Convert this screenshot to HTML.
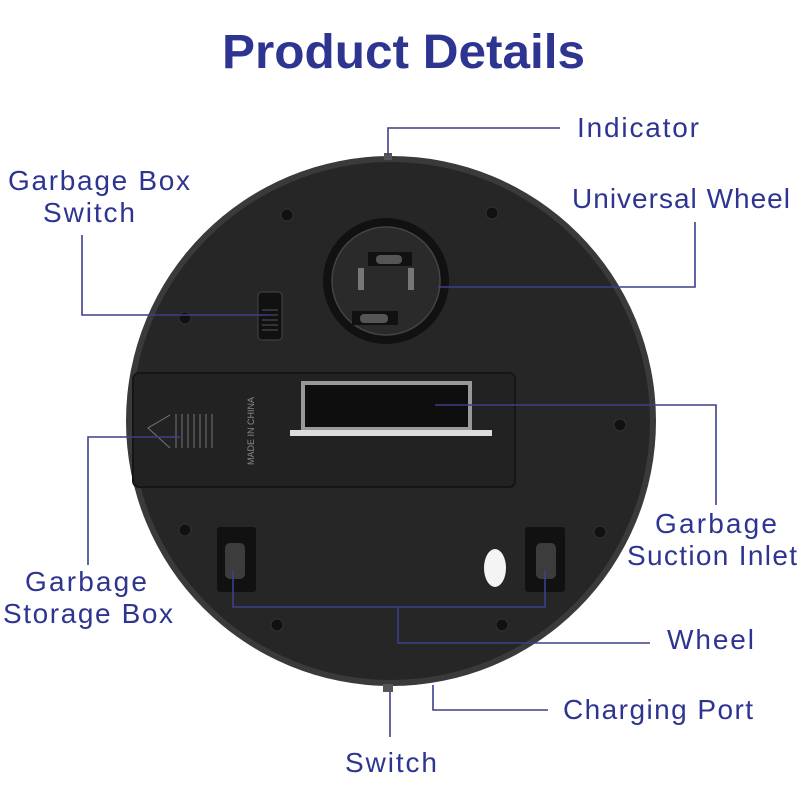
<!DOCTYPE html><html><head><style>body{margin:0;background:#fff}svg{display:block}
text{font-family:"Liberation Sans",sans-serif;fill:#2d3591}</style></head><body>
<svg width="800" height="800" viewBox="0 0 800 800">
<text x="222" y="68" font-size="48" font-weight="bold" textLength="363" lengthAdjust="spacingAndGlyphs">Product Details</text>
<circle cx="391" cy="421" r="265" fill="#3a3a3a"/>
<circle cx="391" cy="421" r="259" fill="#262626"/>
<rect x="133" y="373" width="382" height="114" rx="6" fill="#222" stroke="#151515" stroke-width="2"/>
<circle cx="386" cy="281" r="63" fill="#111"/><circle cx="386" cy="281" r="54" fill="#2a2a2a" stroke="#444" stroke-width="1.5"/>
<rect x="358" y="268" width="6" height="22" fill="#777"/><rect x="408" y="268" width="6" height="22" fill="#777"/>
<rect x="368" y="252" width="44" height="14" fill="#111"/><rect x="376" y="255" width="26" height="9" rx="4" fill="#555"/>
<rect x="352" y="311" width="46" height="14" fill="#111"/><rect x="360" y="314" width="28" height="9" rx="4" fill="#555"/>
<rect x="258" y="292" width="24" height="48" rx="4" fill="#111" stroke="#444"/>
<g stroke="#555" stroke-width="1"><line x1="262" y1="310" x2="278" y2="310"/><line x1="262" y1="315" x2="278" y2="315"/><line x1="262" y1="320" x2="278" y2="320"/><line x1="262" y1="325" x2="278" y2="325"/><line x1="262" y1="330" x2="278" y2="330"/></g>
<rect x="303" y="383" width="167" height="46" fill="#0e0e0e" stroke="#999" stroke-width="4"/>
<rect x="290" y="430" width="202" height="6" fill="#ddd"/>
<g stroke="#777" stroke-width="1" fill="none"><path d="M170 415 L148 428 L170 448"/><line x1="176" y1="414" x2="176" y2="448"/><line x1="182" y1="414" x2="182" y2="448"/><line x1="188" y1="414" x2="188" y2="448"/><line x1="194" y1="414" x2="194" y2="448"/><line x1="200" y1="414" x2="200" y2="448"/><line x1="206" y1="414" x2="206" y2="448"/><line x1="212" y1="414" x2="212" y2="448"/></g>
<text x="0" y="0" font-size="9" style="fill:#888" transform="translate(254,465) rotate(-90)">MADE IN CHINA</text>
<rect x="217" y="527" width="39" height="65" rx="3" fill="#111"/><rect x="225" y="543" width="20" height="36" rx="5" fill="#3c3c3c"/>
<rect x="525" y="527" width="40" height="65" rx="3" fill="#111"/><rect x="536" y="543" width="20" height="36" rx="5" fill="#3c3c3c"/>
<ellipse cx="495" cy="568" rx="11" ry="19" fill="#f4f4f4"/>
<g fill="#111" stroke="#333"><circle cx="287" cy="215" r="6"/><circle cx="492" cy="213" r="6"/><circle cx="185" cy="318" r="6"/><circle cx="620" cy="425" r="6"/><circle cx="185" cy="530" r="6"/><circle cx="600" cy="532" r="6"/><circle cx="277" cy="625" r="6"/><circle cx="502" cy="625" r="6"/></g>
<rect x="384" y="153" width="8" height="7" fill="#555"/><rect x="383" y="684" width="10" height="8" fill="#555"/>
<g stroke="#3c3f8a" stroke-width="1.6" fill="none">
<polyline points="388,155 388,128 560,128"/>
<polyline points="438,287 695,287 695,222"/>
<polyline points="82,235 82,315 270,315"/>
<polyline points="435,405 716,405 716,505"/>
<polyline points="180,437 88,437 88,565"/>
<polyline points="233,570 233,607 545,607 545,570"/>
<polyline points="398,607 398,643 650,643"/>
<polyline points="433,685 433,710 548,710"/>
<line x1="390" y1="692" x2="390" y2="737"/>
</g>
<g font-size="28" lengthAdjust="spacingAndGlyphs">
<text x="577" y="137" textLength="122">Indicator</text>
<text x="572" y="208" textLength="218">Universal Wheel</text>
<text x="8" y="190" textLength="182">Garbage Box</text>
<text x="43" y="222" textLength="92">Switch</text>
<text x="655" y="533" textLength="122">Garbage</text>
<text x="627" y="565" textLength="170">Suction Inlet</text>
<text x="25" y="591" textLength="122">Garbage</text>
<text x="3" y="623" textLength="170">Storage Box</text>
<text x="667" y="649" textLength="87">Wheel</text>
<text x="563" y="719" textLength="190">Charging Port</text>
<text x="345" y="772" textLength="92">Switch</text>
</g>
</svg></body></html>
